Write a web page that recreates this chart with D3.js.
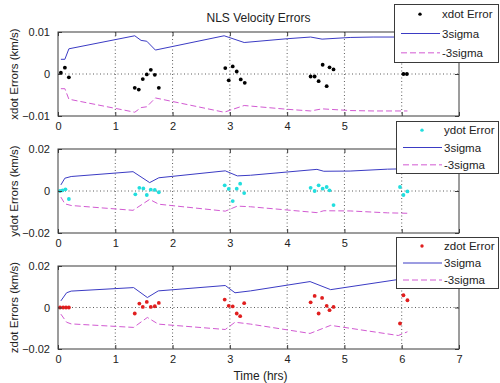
<!DOCTYPE html>
<html>
<head>
<meta charset="utf-8">
<script src="https://cdn.jsdelivr.net/npm/d3@7"></script>
<style>
  html, body { margin: 0; padding: 0; background: #fff; }
  svg { display: block; font-family: "Liberation Sans", Arial, sans-serif; }
</style>
</head>
<body>
<svg id="chart" width="500" height="383"></svg>
<script>
// ---- data -------------------------------------------------------------
const xTicks = [0, 1, 2, 3, 4, 5, 6, 7];

// xdot
const xdotTimes  = [0.05, 0.12, 0.19, 1.34, 1.41, 1.48, 1.55, 1.62, 1.69, 1.76,
                    2.92, 2.98, 3.05, 3.12, 3.19, 3.26,
                    4.41, 4.48, 4.55, 4.62, 4.69, 4.74, 4.81, 6.03, 6.09];
const xdotErrors = [0.0003, 0.0015, -0.0008, -0.0033, -0.0037, -0.0012, -0.0001, 0.0010, -0.0002, -0.0033,
                    0.0014, -0.0015, 0.0018, 0.0006, -0.0013, -0.0021,
                    -0.0006, -0.0006, -0.0017, 0.0022, -0.0029, 0.0016, 0.0011, 0.0, 0.0];
const xdotSigTimes = [0.05, 0.12, 0.19, 1.34, 1.45, 1.55, 1.70, 2.90, 3.25, 4.00, 4.41, 4.61, 5.10, 5.50, 6.10];
const xdot3Sigma   = [0.0035, 0.0035, 0.0060, 0.0091, 0.0080, 0.0078, 0.0057, 0.0091, 0.0075, 0.0084, 0.0088, 0.0083, 0.0087, 0.0088, 0.0088];
const xdotTicks = [-0.01, 0, 0.01];

// ydot
const ydotTimes  = [0.035, 0.08, 0.13, 0.19, 1.35, 1.42, 1.49, 1.55, 1.62, 1.69, 1.76,
                    2.91, 2.98, 3.05, 3.12, 3.18, 3.25,
                    4.41, 4.48, 4.55, 4.62, 4.69, 4.74, 4.81, 5.97, 6.03, 6.10];
const ydotErrors = [0.0, 0.0003, 0.0008, -0.0038, -0.0016, 0.0015, 0.0012, -0.0019, 0.0007, 0.0005, -0.0006,
                    0.0027, 0.0010, -0.0048, 0.0011, 0.0035, -0.0010,
                    0.0015, 0.0, 0.0027, 0.0011, 0.0019, 0.0003, -0.0067, 0.0019, -0.0019, -0.0002];
const ydotSigTimes = [0.05, 0.12, 0.23, 1.31, 1.60, 1.76, 2.92, 3.13, 3.36, 4.52, 4.64, 5.10, 5.75, 6.10];
const ydot3Sigma   = [0.0029, 0.0061, 0.0069, 0.0092, 0.0040, 0.0063, 0.0096, 0.0072, 0.0075, 0.0103, 0.0094, 0.0095, 0.0104, 0.0106];
const ydotTicks = [-0.02, 0, 0.02];

// zdot
const zdotTimes  = [0.035, 0.09, 0.14, 0.19, 1.34, 1.42, 1.48, 1.55, 1.62, 1.69, 1.76,
                    2.91, 2.98, 3.05, 3.12, 3.18, 3.25,
                    4.41, 4.48, 4.55, 4.61, 4.69, 4.74, 4.81, 5.97, 6.03, 6.10];
const zdotErrors = [0.0, 0.0, 0.0, 0.0, -0.0029, 0.0019, 0.0003, 0.0027, 0.0003, 0.0006, 0.0022,
                    0.0038, 0.0008, 0.0005, -0.0029, -0.0042, 0.0021,
                    0.0025, 0.0056, -0.0029, 0.0046, 0.0008, -0.0013, 0.0003, -0.0077, 0.0059, 0.0035];
const zdotSigTimes = [0.05, 0.15, 0.23, 1.32, 1.56, 1.75, 2.92, 3.09, 3.36, 4.40, 4.76, 5.94, 6.10];
const zdot3Sigma   = [0.0032, 0.0071, 0.0079, 0.0096, 0.0048, 0.0080, 0.0106, 0.0071, 0.0080, 0.0125, 0.0086, 0.0135, 0.0117];
const zdotTicks = [-0.02, 0, 0.02];

// ---- layout -----------------------------------------------------------
const svg = d3.select("#chart");
const left = 58, right = 459;
const x = d3.scaleLinear().domain([0, 7]).range([left, right]);

const colors = { sigma: "#3b3bc4", neg: "#d25ad2" };
const fontSize = 11;
const yFmt = d => d === 0 ? "0" : d3.format(".2f")(d);

const panels = [
  { top: 32, bottom: 116, ticks: xdotTicks, t: xdotTimes, e: xdotErrors, st: xdotSigTimes, s: xdot3Sigma,
    color: "#000000", label: "xdot Errors (km/s)", legendName: "xdot Error", legendBox: [394, 4, 498, 62], lastLabel: 5 },
  { top: 149, bottom: 233, ticks: ydotTicks, t: ydotTimes, e: ydotErrors, st: ydotSigTimes, s: ydot3Sigma,
    color: "#22dede", label: "ydot Errors (km/s)", legendName: "ydot Error", legendBox: [396, 121, 498, 173], lastLabel: 5 },
  { top: 266, bottom: 349, ticks: zdotTicks, t: zdotTimes, e: zdotErrors, st: zdotSigTimes, s: zdot3Sigma,
    color: "#e01e1e", label: "zdot Errors (km/s)", legendName: "zdot Error", legendBox: [396, 237, 498, 288], lastLabel: 7 }
];

panels.forEach(p => {
  const yMax = d3.max(p.ticks.map(Math.abs));
  const y = d3.scaleLinear().domain([-yMax, yMax]).range([p.bottom, p.top]);
  const g = svg.append("g");

  // dotted grid
  g.selectAll("line.gx").data(xTicks.slice(1, -1)).join("line")
    .attr("x1", d => x(d)).attr("x2", d => x(d))
    .attr("y1", p.top).attr("y2", p.bottom)
    .attr("stroke", "#333").attr("stroke-width", 0.8).attr("stroke-dasharray", "1,2.5");
  g.selectAll("line.gy").data(p.ticks.filter(d => Math.abs(d) < yMax)).join("line")
    .attr("x1", left).attr("x2", right)
    .attr("y1", d => y(d)).attr("y2", d => y(d))
    .attr("stroke", "#333").attr("stroke-width", 0.8).attr("stroke-dasharray", "1,2.5");

  // sigma envelopes
  const sig = p.st.map((t, i) => [t, p.s[i]]);
  const line = d3.line().x(d => x(d[0])).y(d => y(d[1]));
  g.append("path").attr("d", line(sig))
    .attr("fill", "none").attr("stroke", colors.sigma).attr("stroke-width", 1);
  g.append("path").attr("d", line(sig.map(d => [d[0], -d[1]])))
    .attr("fill", "none").attr("stroke", colors.neg).attr("stroke-width", 1)
    .attr("stroke-dasharray", "6,3");

  // error samples
  g.selectAll("circle").data(p.t.map((t, i) => [t, p.e[i]])).join("circle")
    .attr("cx", d => x(d[0])).attr("cy", d => y(d[1])).attr("r", 1.9)
    .attr("fill", p.color);

  // axes box
  g.append("rect").attr("x", left).attr("y", p.top)
    .attr("width", right - left).attr("height", p.bottom - p.top)
    .attr("fill", "none").attr("stroke", "#3a3a3a").attr("stroke-width", 1);

  // inward ticks; labels tucked under the next legend are left out
  const xAxisB = d3.axisBottom(x).tickValues(xTicks).tickSize(-4)
    .tickFormat(d => d <= p.lastLabel ? d3.format("d")(d) : "").tickPadding(8);
  const gxb = g.append("g").attr("transform", `translate(0,${p.bottom})`).call(xAxisB);
  const gxt = g.append("g").attr("transform", `translate(0,${p.top})`)
    .call(d3.axisTop(x).tickValues(xTicks).tickSize(-4).tickFormat(""));
  const gyl = g.append("g").attr("transform", `translate(${left},0)`)
    .call(d3.axisLeft(y).tickValues(p.ticks).tickSize(-4).tickFormat(yFmt).tickPadding(8));
  const gyr = g.append("g").attr("transform", `translate(${right},0)`)
    .call(d3.axisRight(y).tickValues(p.ticks).tickSize(-4).tickFormat(""));
  [gxb, gxt, gyl, gyr].forEach(a => {
    a.select(".domain").remove();
    a.selectAll(".tick line").attr("stroke", "#3a3a3a");
    a.selectAll("text").attr("font-size", fontSize).attr("fill", "#222")
      .attr("font-family", "'Liberation Sans', Arial, sans-serif");
    a.selectAll("text").filter(function () { return this.textContent === ""; }).remove();
  });
  gxb.selectAll("text").attr("dy", "0.55em");

  // y label
  svg.append("text")
    .attr("transform", `translate(15,${(p.top + p.bottom) / 2}) rotate(-90)`)
    .attr("text-anchor", "middle").attr("dominant-baseline", "middle")
    .attr("font-size", 11.5).attr("fill", "#222").text(p.label);

  // legend
  const [lx0, ly0, lx1, ly1] = p.legendBox;
  const lg = svg.append("g");
  lg.append("rect").attr("x", lx0 + 0.5).attr("y", ly0 + 0.5)
    .attr("width", lx1 - lx0).attr("height", ly1 - ly0)
    .attr("fill", "#fff").attr("stroke", "#3a3a3a").attr("stroke-width", 1);
  const rowH = (ly1 - ly0) / 3;
  const rows = [
    { name: p.legendName, kind: "dot" },
    { name: "3sigma", kind: "solid" },
    { name: "-3sigma", kind: "dash" }
  ];
  rows.forEach((r, i) => {
    const cy = ly0 + rowH * (i + 0.5) + 0.5;
    if (r.kind === "dot") {
      lg.append("circle").attr("cx", lx0 + 26).attr("cy", cy).attr("r", 1.7).attr("fill", p.color);
    } else {
      lg.append("line").attr("x1", lx0 + 7).attr("x2", lx0 + 46).attr("y1", cy).attr("y2", cy)
        .attr("stroke", r.kind === "solid" ? colors.sigma : colors.neg).attr("stroke-width", 1)
        .attr("stroke-dasharray", r.kind === "dash" ? "6,3" : null);
    }
    lg.append("text").attr("x", lx0 + 48).attr("y", cy).attr("dy", "0.35em")
      .attr("font-size", 11.5).attr("fill", "#222").text(r.name);
  });
});

// title and x label
svg.append("text").attr("x", (left + right) / 2).attr("y", 22)
  .attr("text-anchor", "middle").attr("font-size", 12).attr("fill", "#222")
  .text("NLS Velocity Errors");
svg.append("text").attr("x", (left + right) / 2 + 2).attr("y", 380)
  .attr("text-anchor", "middle").attr("font-size", 12).attr("fill", "#222")
  .text("Time (hrs)");
</script>
</body>
</html>
